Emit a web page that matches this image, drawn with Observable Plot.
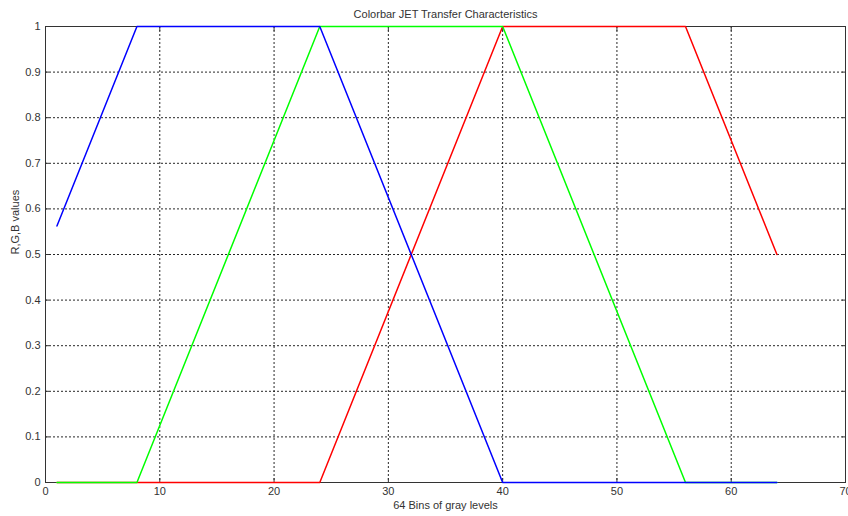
<!DOCTYPE html>
<html>
<head>
<meta charset="utf-8">
<script src="https://cdn.jsdelivr.net/npm/d3@7"></script>
<script src="https://cdn.jsdelivr.net/npm/@observablehq/plot@0.6"></script>
<style>
  html, body { margin: 0; padding: 0; background: #fff; }
  #chart { width: 848px; height: 516px; }
</style>
</head>
<body>
<div id="chart"></div>
<script>
const titleText = "Colorbar JET Transfer Characteristics";
const xLabel = "64 Bins of gray levels";
const yLabel = "R,G,B values";
const xTicks = [0, 10, 20, 30, 40, 50, 60, 70];
const yTicks = [0, 0.1, 0.2, 0.3, 0.4, 0.5, 0.6, 0.7, 0.8, 0.9, 1];
const yTickLabels = ["0", "0.1", "0.2", "0.3", "0.4", "0.5", "0.6", "0.7", "0.8", "0.9", "1"];

// breakpoints of each channel (bin, value)
const redBins = [1, 24, 40, 56, 64];
const redValues = [0, 0, 1, 1, 0.5];
const greenBins = [1, 8, 24, 40, 56, 64];
const greenValues = [0, 0, 1, 1, 0, 0];
const blueBins = [1, 8, 24, 40, 64];
const blueValues = [0.5625, 1, 1, 0, 0];

const series = [
  {name: "R", color: "#ff0000", bins: redBins, values: redValues},
  {name: "G", color: "#00ff00", bins: greenBins, values: greenValues},
  {name: "B", color: "#0000ff", bins: blueBins, values: blueValues}
];
const rows = series.flatMap(s => s.bins.map((b, i) => ({ch: s.name, color: s.color, x: b, y: s.values[i]})));

const fmtY = d => yTickLabels[yTicks.findIndex(t => Math.abs(t - d) < 1e-9)];
const ink = "#333";

const chart = Plot.plot({
  width: 848,
  height: 516,
  marginLeft: 45,
  marginRight: 3,
  marginTop: 26,
  marginBottom: 34,
  style: {fontFamily: "'Liberation Sans', Arial, sans-serif", fontSize: "11px", color: ink, background: "#fff"},
  x: {domain: [0, 70], ticks: xTicks},
  y: {domain: [0, 1], ticks: yTicks},
  marks: [
    Plot.gridX(xTicks.slice(1, -1), {stroke: "#000", strokeOpacity: 0.85, strokeDasharray: "2,2"}),
    Plot.gridY(yTicks.slice(1, -1), {stroke: "#000", strokeOpacity: 0.85, strokeDasharray: "2,2"}),
    Plot.frame({stroke: ink}),
    Plot.axisX(xTicks, {anchor: "bottom", tickSize: -4, tickPadding: 9, stroke: ink, fill: ink, label: null}),
    Plot.axisX(xTicks, {anchor: "top", tickSize: -4, tickFormat: () => "", stroke: ink, label: null}),
    Plot.axisY(yTicks, {anchor: "left", tickSize: -4, tickPadding: 9, tickFormat: fmtY, stroke: ink, fill: ink, label: null}),
    Plot.axisY(yTicks, {anchor: "right", tickSize: -4, tickFormat: () => "", stroke: ink, label: null}),
    Plot.line(rows, {x: "x", y: "y", z: "ch", stroke: "color", strokeWidth: 1.5}),
    Plot.text([titleText], {frameAnchor: "top", dy: -16, fill: ink, fontSize: 11}),
    Plot.text([xLabel], {frameAnchor: "bottom", dy: 26, fill: ink, fontSize: 11}),
    Plot.text([yLabel], {frameAnchor: "left", dx: -30, rotate: -90, fill: ink, fontSize: 11})
  ]
});
document.getElementById("chart").appendChild(chart);
</script>
</body>
</html>
